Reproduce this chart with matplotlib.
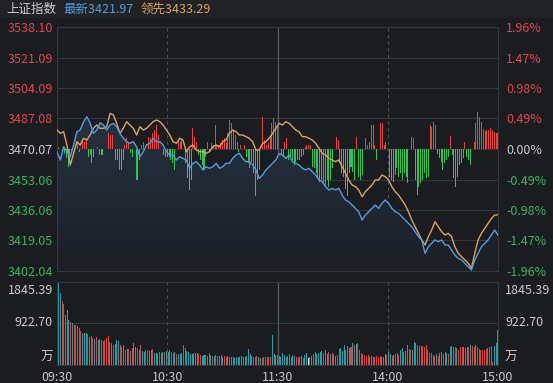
import numpy as np
import matplotlib.pyplot as plt
from matplotlib.colors import LinearSegmentedColormap
from matplotlib.patches import Polygon, Rectangle

plt.rcParams['font.family'] = ['Noto Sans CJK SC', 'DejaVu Sans']

# ---- data ----
prev_close = 3470.07
price_levels = [3538.10, 3521.09, 3504.09, 3487.08, 3470.07, 3453.06, 3436.06, 3419.05, 3402.04]
pct_labels = ['1.96%', '1.47%', '0.98%', '0.49%', '0.00%', '-0.49%', '-0.98%', '-1.47%', '-1.96%']
time_ticks = [0, 60, 120, 180, 240]
time_labels = ['09:30', '10:30', '11:30', '14:00', '15:00']
vol_levels = [922.70, 1845.39]

# 最新 (blue) and 领先 (orange), sampled evenly across the session
latest = [
    3468.56, 3463.94, 3471.35, 3468.56, 3465.78, 3472.30, 3479.72, 3480.66, 3485.29, 3488.08,
    3484.40, 3478.82, 3480.66, 3484.74, 3483.45, 3480.66, 3483.45, 3484.40, 3482.50, 3478.82,
    3476.04, 3474.14, 3473.25, 3474.14, 3471.35, 3465.78, 3468.56, 3472.30, 3473.25, 3476.04,
    3474.14, 3474.14, 3472.30, 3468.56, 3466.72, 3466.72, 3463.94, 3465.78, 3464.88, 3463.94,
    3459.31, 3462.10, 3462.99, 3461.15, 3458.36, 3460.20, 3459.31, 3460.20, 3462.10, 3459.31,
    3460.20, 3462.10, 3462.10, 3464.88, 3466.72, 3467.67, 3464.88, 3462.99, 3462.99, 3461.15,
    3458.36, 3453.73, 3455.57, 3458.36, 3460.20, 3462.10, 3463.94, 3467.50,
    3466.72, 3464.88, 3466.72, 3462.99, 3462.10, 3461.15, 3459.31, 3458.36, 3459.31, 3457.41,
    3455.57, 3452.78, 3451.84, 3449.05, 3447.21, 3448.16, 3447.21, 3448.16, 3444.42, 3441.63,
    3440.68, 3438.84, 3437.00, 3435.11, 3430.48, 3433.27, 3435.11, 3437.00, 3438.84, 3437.00,
    3439.79, 3441.63, 3439.79, 3437.00, 3435.11, 3434.22, 3432.32, 3430.48, 3428.64, 3426.74,
    3423.96, 3421.17, 3419.33, 3411.91, 3415.59, 3417.49, 3419.33, 3418.38, 3419.33, 3416.54,
    3416.54, 3413.75, 3410.96, 3409.12, 3408.18, 3406.34, 3404.44, 3402.60, 3408.18, 3411.91,
    3415.59, 3417.49, 3419.33, 3422.12, 3424.90, 3421.97,
]
leading = [
    3480.66, 3478.82, 3479.72, 3472.30, 3461.15, 3467.67, 3474.14, 3472.30, 3476.04, 3475.09,
    3477.88, 3481.61, 3483.45, 3481.61, 3481.61, 3482.50, 3489.98, 3489.03, 3484.40, 3478.82,
    3481.61, 3485.29, 3483.45, 3481.61, 3477.88, 3482.50, 3480.66, 3481.61, 3483.45, 3485.29,
    3486.24, 3485.29, 3483.45, 3480.66, 3477.88, 3474.14, 3473.25, 3476.04, 3475.09, 3468.56,
    3471.35, 3472.30, 3469.51, 3468.56, 3468.56, 3467.67, 3468.56, 3471.35, 3472.30, 3471.35,
    3474.14, 3475.09, 3478.82, 3480.66, 3479.72, 3477.88, 3477.88, 3476.93, 3476.04, 3474.14,
    3469.51, 3469.51, 3473.25, 3474.14, 3476.04, 3478.82, 3481.61, 3484.40,
    3483.45, 3485.29, 3484.40, 3482.50, 3480.66, 3479.72, 3476.93, 3476.93, 3476.04, 3475.09,
    3473.25, 3470.46, 3467.67, 3466.72, 3464.88, 3463.94, 3462.99, 3463.94, 3460.20, 3456.52,
    3452.78, 3449.99, 3449.05, 3447.21, 3443.47, 3446.26, 3448.16, 3449.99, 3452.78, 3452.78,
    3455.57, 3454.62, 3452.78, 3449.05, 3446.26, 3444.42, 3441.63, 3438.84, 3435.11, 3430.48,
    3426.74, 3423.06, 3419.33, 3416.54, 3421.17, 3424.90, 3429.53, 3426.74, 3423.96, 3422.12,
    3423.06, 3421.17, 3415.59, 3411.91, 3410.02, 3408.18, 3406.34, 3403.55, 3411.91, 3419.33,
    3423.06, 3425.85, 3428.64, 3431.32, 3433.27, 3433.29,
]

# red/green strength bars, one per minute (index points above/below prev close)
flow = [
    0, 1.3, 0, 0, -2.0, -5.2, -9.9, -7.1, -2.0, 0,
    2.2, 3.2, -1.5, 0, 5.0, 4.1, 5.0, -4.3, -3.3, -8.0,
    -4.3, 0, 1.0, -3.3, -3.3, -3.3, 0, 0, 8.7, 7.8,
    7.8, 0, -6.1, -6.1, -11.7, -11.7, -6.1, 2.2, 5.9, 3.2,
    -2.4, -4.3, 0, -17.3, -17.3, -6.1, 2.2, 4.1, 0, 0,
    6.9, 5.9, 8.7, 10.6, 13.4, 7.8, 0, 0, -3.3, -4.3,
    -4.3, -4.3, -6.1, -8.0, -11.7, 0, 5.0, 4.1, 5.0, 0,
    -8.0, -16.4, -22.9, -17.3, 11.5, 6.9, 4.1, -3.3, -6.1, -8.9,
    -11.7, -4.3, 4.1, -1.5, 3.2, 2.2, 13.4, 2.2, 2.2, 3.2,
    5.0, 5.9, 4.1, 8.7, 16.2, 14.3, 10.6, 7.8, 4.1, -1.5,
    2.2, 0, 2.2, -4.3, -8.0, -10.8, -7.1, -13.6, -26.0, -17.3,
    -11.7, 0, 18.0, 5.0, 2.2, 3.2, 8.0, 14.3, 17.1, 15.2,
    12.5, 0, -3.3, -4.3, 4.1, 5.9, -6.1, -4.3, -6.1, -8.9,
    -7.1, -6.1, -6.1, -4.3, -3.3, 1.3, 2.2, 2.2, 2.2, -9.9,
    -10.8, -13.6, -15.4, -18.2, -17.3, -19.1, -21.0, -17.3, -21.0, -17.3,
    -10.8, 0, 6.9, 5.0, -8.0, -13.6, -15.4, -22.3, -26.0, -13.6,
    -9.9, -12.6, -17.3, 6.9, -15.4, -17.3, -14.5, 0, 5.9, 2.2,
    4.1, 13.4, 13.4, 2.2, -6.1, 0, 14.3, 14.3, 2.2, 4.1,
    0, -15.4, -17.3, -18.2, -14.5, -10.8, -15.4, -13.6, -17.3, -13.6,
    -15.4, -19.1, 0, 6.9, 5.9, -17.3, -25.7, -21.0, -19.1, -17.3,
    -13.6, -16.4, -15.4, 13.4, 12.5, 15.2, 13.4, -3.0, -5.2, -7.1,
    -11.7, -8.0, -6.1, -4.3, 7.0, -3.3, -16.4, -21.0, -15.4, -9.0,
    -8.0, -5.2, 4.0, -4.3, -6.1, -8.9, 0, 4.0, 14.3, 20.8,
    18.0, 15.0, 11.0, 10.0, 10.6, 10.6, 11.5, 10.6, 9.7, 8.7,
    8.7,
]

# volume (万), with up/down colour codes: t = teal, r = red, w = white
volume = [
    886, 1845, 1601, 1424, 1351, 1107, 1232, 996, 959, 937,
    886, 886, 863, 812, 753, 716, 716, 701, 686, 627,
    642, 590, 568, 613, 553, 568, 553, 539, 553, 590,
    642, 517, 480, 443, 465, 553, 539, 443, 406, 443,
    332, 347, 354, 317, 369, 480, 406, 369, 332, 443,
    317, 295, 332, 332, 317, 332, 347, 273, 273, 273,
    280, 273, 295, 295, 317, 295, 332, 280, 258, 295,
    244, 244, 244, 258, 443, 369, 317, 295, 244, 244,
    258, 258, 273, 244, 221, 199, 221, 221, 199, 258,
    221, 199, 199, 221, 207, 199, 214, 185, 199, 185,
    199, 185, 185, 170, 148, 170, 185, 170, 199, 170,
    185, 199, 347, 244, 199, 185, 170, 199, 170, 148,
    148, 185, 170, 170, 170, 185,
    664, 244, 221, 221, 199, 185, 258, 221, 185, 199,
    244, 185, 221, 199, 170, 185, 170, 199, 148, 221,
    258, 148, 185, 199, 244, 295, 244, 273, 295, 317,
    258, 332, 244, 295, 244, 273, 244, 199, 221, 347,
    369, 317, 443, 332, 421, 369, 391, 480, 443, 465,
    480, 332, 273, 244, 221, 199, 221, 185, 199, 185,
    170, 199, 185, 199, 185, 170, 244, 221, 295, 244,
    199, 221, 244, 258, 221, 332, 369, 295, 317, 443,
    347, 332, 332, 517, 480, 443, 421, 421, 421, 406,
    443, 332, 273, 258, 221, 199, 244, 199, 258, 295,
    244, 295, 258, 244, 406, 421, 391, 406, 369, 332,
    406, 391, 391, 369, 406, 391, 443, 421, 391, 443,
    406, 347, 332, 332, 332, 347, 369, 406, 421, 74,
    421, 480, 775,
]
vol_dir = ('wttrrtttrt' 'rrtrrtttrt' 'rrtrtttrrr' 'rttrtttrrt' 'rtrtrttrtr'
           'ttrrttrttt' 'rttrtttrrt' 'rtttrrttt' 't' 'tttrrttrtr' 'trtrrtrtrr'
           'tttttttttt' 'tttttrrrtt' 'rrrrrr'
           'tttrrttttt' 'ttttrrrtrt' 'twtttttttt' 'rttrtrttrt' 'ttttttrtrt'
           'rrrrrrrrtr' 'rrrrtttrtt' 'rtrrrttrtt' 'rrtttrrrrr' 'rrrrrrtrtt'
           'rttrtttrtr' 'rrtttrtrrt' 'rrrrrrrrrr' 'ttt')

# ---- styling ----
W, H = 553, 383
bg = '#1b1c20'
grid_c = '#35363b'
red = '#e5443f'
green = '#2fc45a'
label_red = '#e0474c'
label_green = '#33b85c'
label_grey = '#c9c9c9'
blue_c = '#4f9de2'
orange_c = '#dba55c'
vol_colors = {'t': '#2a9ea6', 'r': '#d44843', 'w': '#e6e6e6'}


def fx(x):
    return x / W


def fy(y):
    return 1 - y / H


fig = plt.figure(figsize=(W / 100, H / 100), dpi=100, facecolor=bg)
fig.patches.append(Rectangle((0, fy(18)), 1, 18 / H, transform=fig.transFigure,
                             facecolor='#212226', edgecolor='none', zorder=0))

ax = fig.add_axes([fx(57), fy(271), fx(498) - fx(57), fy(27) - fy(271)])
axv = fig.add_axes([fx(57), fy(365), fx(498) - fx(57), fy(282) - fy(365)])

ylo, yhi = price_levels[-1], price_levels[0]
t = np.linspace(0, 240, len(latest))
minutes = np.arange(len(flow))

for a in (ax, axv):
    a.set_facecolor(bg)
    a.set_xlim(0, 240)
    for s in a.spines.values():
        s.set_color(grid_c)
        s.set_linewidth(0.8)
    a.axvline(60, color='#4c4d52', lw=0.8, ls=(0, (3, 3)), zorder=0.6)
    a.axvline(120, color='#5a5b60', lw=0.9, zorder=0.6)
    a.axvline(180, color='#4c4d52', lw=0.8, ls=(0, (3, 3)), zorder=0.6)

# main price panel
ax.set_ylim(ylo, yhi)
for lv in price_levels:
    ax.axhline(lv, color=grid_c, lw=0.8, zorder=0.5)

grad = np.linspace(0, 1, 256).reshape(-1, 1)
cmap = LinearSegmentedColormap.from_list('fade', ['#1c1f26', '#25323f'])
im = ax.imshow(grad, extent=[0, 240, ylo, max(latest)], origin='lower', aspect='auto',
               cmap=cmap, zorder=1)
clip = Polygon(list(zip(t, latest)) + [(240, ylo), (0, ylo)], closed=True,
               facecolor='none', edgecolor='none', transform=ax.transData)
ax.add_patch(clip)
im.set_clip_path(clip)

ax.bar(minutes, flow, bottom=prev_close, width=0.55,
       color=[red if v > 0 else green for v in flow], zorder=2)
ax.plot(t, leading, color=orange_c, lw=1.0, zorder=3)
ax.plot(t, latest, color=blue_c, lw=1.0, zorder=4)

ax.set_xticks([])
ax.set_yticks(price_levels)
ax.set_yticklabels([f'{v:.2f}' for v in price_levels], fontsize=9)
ax.tick_params(axis='y', length=0, pad=3)
for lab, lv in zip(ax.get_yticklabels(), price_levels):
    lab.set_color(label_red if lv > prev_close else label_green if lv < prev_close else label_grey)

ax2 = ax.twinx()
ax2.set_ylim(ylo, yhi)
ax2.set_yticks(price_levels)
ax2.set_yticklabels(pct_labels, fontsize=9)
ax2.tick_params(axis='y', length=0, pad=6)
for s in ax2.spines.values():
    s.set_visible(False)
for lab, lv in zip(ax2.get_yticklabels(), price_levels):
    lab.set_color(label_red if lv > prev_close else label_green if lv < prev_close else label_grey)

# volume panel
vt = np.linspace(0, 240, len(volume))
axv.set_ylim(0, vol_levels[-1])
axv.axhline(vol_levels[0], color=grid_c, lw=0.8, zorder=0.5)
axv.bar(vt, volume, width=0.55, color=[vol_colors[c] for c in vol_dir], zorder=2)
axv.set_yticks([])
axv.set_xticks(time_ticks)
axv.set_xticklabels(time_labels, fontsize=9, color=label_grey)
axv.tick_params(axis='x', length=0, pad=4)

for txt, yy in [('1845.39', 290), ('922.70', 323), ('万', 357)]:
    fig.text(fx(53), fy(yy), txt, color=label_grey, fontsize=9, ha='right', va='center')
    fig.text(fx(505), fy(yy), txt, color=label_grey, fontsize=9, ha='left', va='center')

# header
fig.text(fx(6), fy(9), '上证指数', color='#cfcfcf', fontsize=9, va='center')
fig.text(fx(63), fy(9), '最新3421.97', color=blue_c, fontsize=9, va='center')
fig.text(fx(141), fy(9), '领先3433.29', color=orange_c, fontsize=9, va='center')

fig.savefig('out.png', dpi=100, facecolor=bg)
